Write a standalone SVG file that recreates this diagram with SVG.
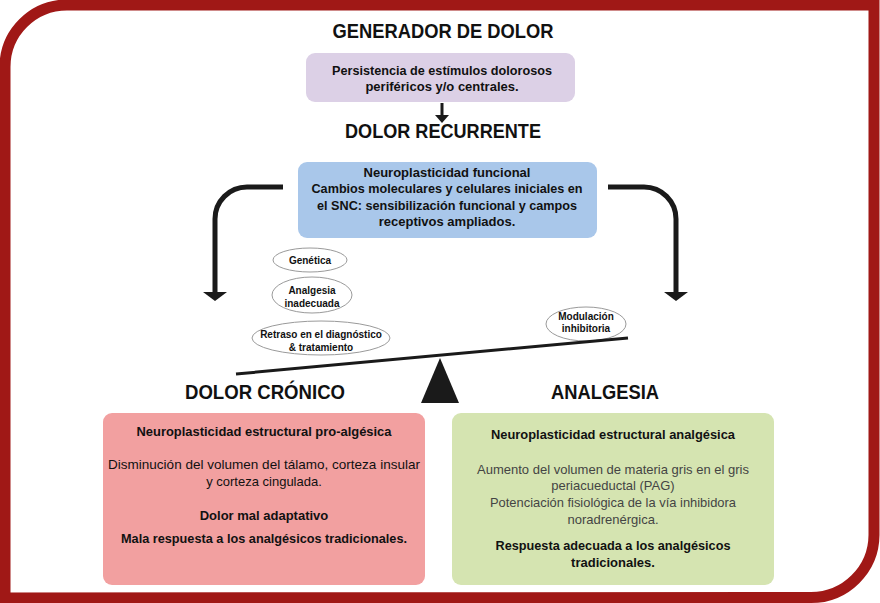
<svg xmlns="http://www.w3.org/2000/svg" width="880" height="603" viewBox="0 0 880 603">
<defs>
<style>
.t{font-family:"Liberation Sans",Arial,sans-serif;fill:#111;text-anchor:middle}
.h{font-size:21px;font-weight:bold}
.b{font-size:13px;font-weight:bold}
.r{font-size:13px}
.s{font-size:10px;font-weight:bold}
.g{fill:#444}
.el{fill:#fff;stroke:#9a9a9a;stroke-width:1}
.ar{fill:none;stroke:#1a1a1a;stroke-width:5}
</style>
</defs>
<rect x="0" y="0" width="880" height="603" fill="#fff"/>
<path d="M5,598 L5,67 A62,62 0 0 1 67,5 L874,5 L874,535 A63,63 0 0 1 811,597.5 Z" fill="none" stroke="#a01816" stroke-width="11"/>

<g id="generador-title"><text class="t h" x="443" y="38" textLength="221" lengthAdjust="spacingAndGlyphs">GENERADOR DE DOLOR</text></g>
<g id="generador">
<rect x="306" y="53" width="269" height="49" rx="9" fill="#dcd0e6"/>
<text class="t b" x="442" y="75" textLength="220" lengthAdjust="spacingAndGlyphs">Persistencia de estímulos dolorosos</text>
<text class="t b" x="442" y="91">periféricos y/o centrales.</text>
</g>
<g id="recurrente-title"><text class="t h" x="443" y="138" textLength="196" lengthAdjust="spacingAndGlyphs">DOLOR RECURRENTE</text></g>
<g id="funcional">
<rect x="298" y="162" width="299" height="76" rx="9" fill="#a9c7ea"/>
<text class="t b" x="447" y="177">Neuroplasticidad funcional</text>
<text class="t b" x="447" y="193" textLength="271" lengthAdjust="spacingAndGlyphs">Cambios moleculares y celulares iniciales en</text>
<text class="t b" x="447" y="210" textLength="260" lengthAdjust="spacingAndGlyphs">el SNC: sensibilización funcional y campos</text>
<text class="t b" x="447" y="226">receptivos ampliados.</text>
</g>

<g id="connectors">
<path d="M442,103 V116" stroke="#1a1a1a" stroke-width="3" fill="none"/>
<polygon points="435,115 449,115 442,123" fill="#1a1a1a"/>
<path class="ar" d="M283,187 H247 A32,32 0 0 0 215,219 V293"/>
<polygon points="203,292 227,292 215,301" fill="#1a1a1a"/>
<path class="ar" d="M608,187 H644 A32,32 0 0 1 676,219 V293"/>
<polygon points="664,292 688,292 676,301" fill="#1a1a1a"/>
</g>

<g id="genetica">
<ellipse class="el" cx="310" cy="260" rx="37" ry="12"/>
<text class="t s" x="310" y="264">Genética</text>
</g>
<g id="analgesia-inadecuada">
<ellipse class="el" cx="312" cy="295" rx="40" ry="18"/>
<text class="t s" x="312" y="294">Analgesia</text>
<text class="t s" x="312" y="307">inadecuada</text>
</g>
<g id="retraso">
<ellipse class="el" cx="321" cy="338" rx="69" ry="17"/>
<text class="t s" x="321" y="338">Retraso en el diagnóstico</text>
<text class="t s" x="321" y="351">&amp; tratamiento</text>
</g>
<g id="modulacion">
<ellipse class="el" cx="586" cy="324" rx="40" ry="17"/>
<text class="t s" x="586" y="320">Modulación</text>
<text class="t s" x="586" y="332">inhibitoria</text>
</g>

<g id="balanza">
<line x1="236" y1="374" x2="628" y2="338" stroke="#1a1a1a" stroke-width="3"/>
<polygon points="440,358 421,403 459,403" fill="#1a1a1a"/>
</g>

<g id="cronico-title"><text class="t h" x="265" y="399" textLength="160" lengthAdjust="spacingAndGlyphs">DOLOR CRÓNICO</text></g>
<g id="analgesia-title"><text class="t h" x="605" y="399" textLength="108" lengthAdjust="spacingAndGlyphs">ANALGESIA</text></g>

<g id="cronico">
<rect x="103" y="413" width="322" height="172" rx="9" fill="#f2a0a0"/>
<text class="t b" x="264" y="436" textLength="255" lengthAdjust="spacingAndGlyphs" style="font-weight:600">Neuroplasticidad estructural pro-algésica</text>
<text class="t r" x="264" y="469" textLength="312" lengthAdjust="spacingAndGlyphs">Disminución del volumen del tálamo, corteza insular</text>
<text class="t r" x="264" y="486">y corteza cingulada.</text>
<text class="t b" x="264" y="520">Dolor mal adaptativo</text>
<text class="t b" x="264" y="543" textLength="286" lengthAdjust="spacingAndGlyphs">Mala respuesta a los analgésicos tradicionales.</text>
</g>

<g id="analgesia">
<rect x="452" y="413" width="322" height="172" rx="9" fill="#d5e4b1"/>
<text class="t b" x="613" y="439" textLength="244" lengthAdjust="spacingAndGlyphs">Neuroplasticidad estructural analgésica</text>
<text class="t r g" x="613" y="474" textLength="272" lengthAdjust="spacingAndGlyphs">Aumento del volumen de materia gris en el gris</text>
<text class="t r g" x="613" y="490">periacueductal (PAG)</text>
<text class="t r g" x="613" y="507" textLength="246" lengthAdjust="spacingAndGlyphs">Potenciación fisiológica de la vía inhibidora</text>
<text class="t r g" x="613" y="524">noradrenérgica.</text>
<text class="t b" x="613" y="550" textLength="235" lengthAdjust="spacingAndGlyphs">Respuesta adecuada a los analgésicos</text>
<text class="t b" x="613" y="567">tradicionales.</text>
</g>
</svg>
